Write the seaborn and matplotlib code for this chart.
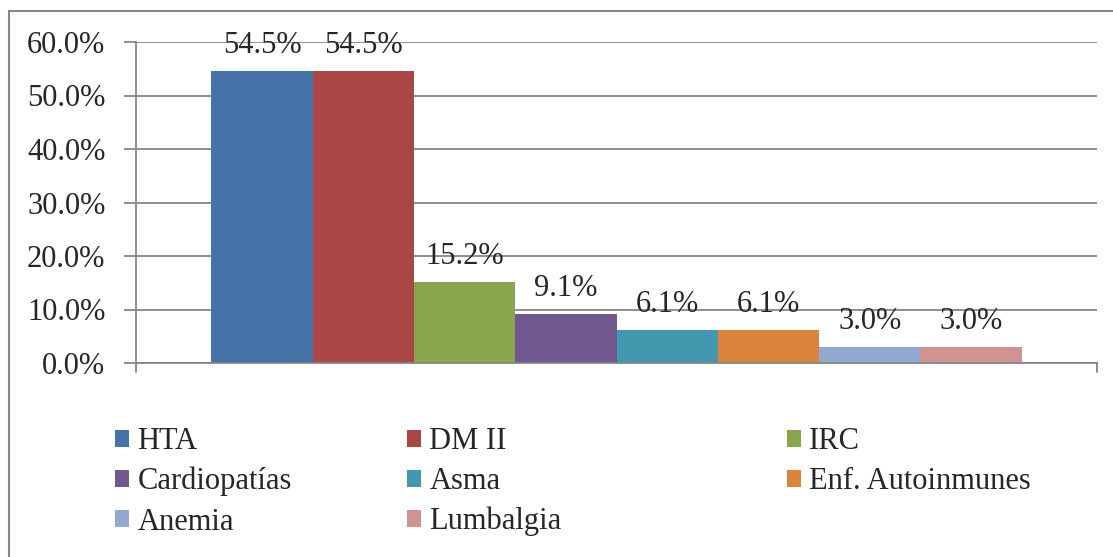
import matplotlib
matplotlib.use("Agg")
import matplotlib.pyplot as plt
import seaborn as sns
import pandas as pd
from matplotlib.lines import Line2D
from matplotlib.patches import Patch

series = ["HTA", "DM II", "IRC", "Cardiopatías", "Asma", "Enf. Autoinmunes", "Anemia", "Lumbalgia"]
values = [54.5, 54.5, 15.2, 9.1, 6.1, 6.1, 3.0, 3.0]
colors = ["#4572A7", "#AA4643", "#89A54E", "#71588F", "#4198AF", "#DB843D", "#93A9CF", "#D19392"]
yticks = [0, 10, 20, 30, 40, 50, 60]

sns.set_theme(style="white")
plt.rcParams["font.family"] = ["Liberation Serif", "DejaVu Serif"]

W, H = 1113, 557
fig = plt.figure(figsize=(W / 100, H / 100), dpi=100)
ax = fig.add_axes([136 / W, 1 - 363 / H, (1097 - 136) / W, (363 - 42) / H])

df = pd.DataFrame({"cat": [""] * len(series), "serie": series, "val": values})
sns.barplot(data=df, x="cat", y="val", hue="serie", hue_order=series,
            palette=colors, width=0.843, gap=0, saturation=1, ax=ax, legend=False,
            linewidth=0, edgecolor="none")

ax.set_xlim(-0.5, 0.5)
ax.set_ylim(0, 60)
ax.set_yticks(yticks)
ax.set_yticklabels([f"{v:.1f}%" for v in yticks], fontsize=22)
ax.set_xticks([])
ax.set_xlabel("")
ax.set_ylabel("")
ax.yaxis.grid(True, color="#868686", linewidth=1.3)
ax.set_axisbelow(True)
for s in ["top", "right"]:
    ax.spines[s].set_visible(False)
for s in ["left", "bottom"]:
    ax.spines[s].set_color("#868686")
    ax.spines[s].set_linewidth(1.3)
ax.tick_params(axis="y", length=9, width=1.3, color="#868686", left=True, pad=13)
# small ticks below both ends of the x-axis
ax.plot([1, 1], [0, -0.028], transform=ax.transAxes, color="#868686", lw=1.3, clip_on=False)
ax.plot([0, 0], [0, -0.028], transform=ax.transAxes, color="#868686", lw=1.3, clip_on=False)

for cont in ax.containers:
    ax.bar_label(cont, labels=[f"{v:.1f}%" for v in cont.datavalues], fontsize=22, padding=8)

# legend in three columns (placed like Excel)
handles = [Patch(facecolor=c, edgecolor="none") for c in colors]
cols = [[0, 3, 6], [1, 4, 7], [2, 5]]
xs = [115, 407, 787]
for xi, idx in zip(xs, cols):
    fig.legend([handles[i] for i in idx], [series[i] for i in idx],
               loc="upper left", bbox_to_anchor=(xi / W, 1 - 427 / H),
               frameon=False, fontsize=22, handlelength=0.47, handleheight=0.47,
               handletextpad=0.26, labelspacing=0.36, borderaxespad=0, borderpad=0)

# outer border (left and top visible)
fig.add_artist(Line2D([9 / W, 9 / W], [1 - 11 / H, 0], transform=fig.transFigure, color="#868686", lw=1.5))
fig.add_artist(Line2D([9 / W, 1], [1 - 11 / H, 1 - 11 / H], transform=fig.transFigure, color="#868686", lw=1.5))

fig.savefig("out.png", dpi=100)
